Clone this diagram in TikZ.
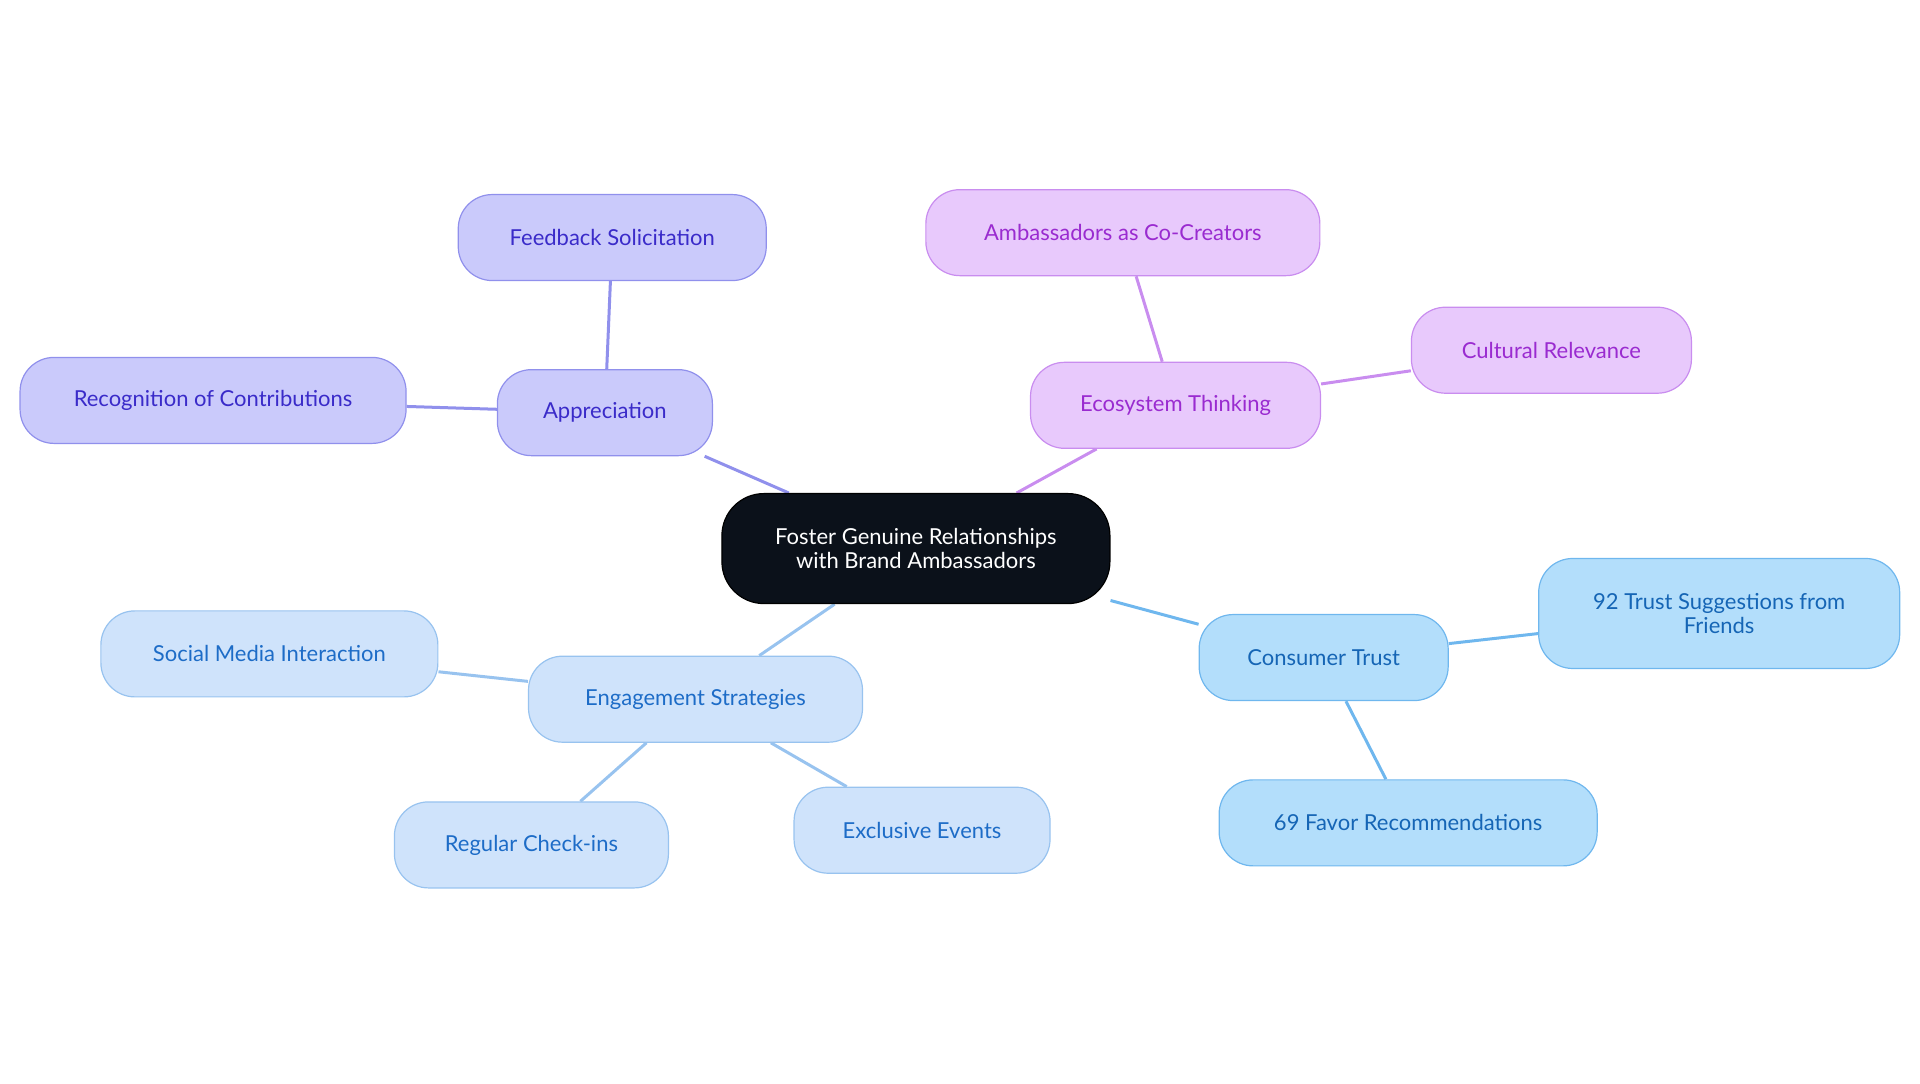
\documentclass[tikz,border=0pt]{standalone}
\usepackage{fontspec}
\setmainfont{Lato}
\begin{document}
\begin{tikzpicture}[x=1.2245pt,y=-1.2245pt,
 base/.style={rounded corners=34pt,draw,line width=1.2pt,minimum height=86pt,align=center,font=\fontsize{22}{24}\selectfont,inner sep=0pt},
 pur/.style={base,fill=purA,draw=purB,text=purC},
 vio/.style={base,fill=vioA,draw=vioB,text=vioC},
 sky/.style={base,fill=skyA,draw=skyB,text=skyC},
 lbl/.style={base,fill=lblA,draw=lblB,text=lblC},
 e/.style={line width=3pt}]
\definecolor{purA}{HTML}{CACAFB}\definecolor{purB}{HTML}{9090EC}\definecolor{purC}{HTML}{3A2BC9}
\definecolor{vioA}{HTML}{E8C9FC}\definecolor{vioB}{HTML}{C98DEF}\definecolor{vioC}{HTML}{9A2BD0}
\definecolor{skyA}{HTML}{B3DEFB}\definecolor{skyB}{HTML}{6FB7EE}\definecolor{skyC}{HTML}{1565B5}
\definecolor{lblA}{HTML}{CFE3FB}\definecolor{lblB}{HTML}{98C3EF}\definecolor{lblC}{HTML}{1D6CC7}
\useasboundingbox (0,0) rectangle (1568,884.5);
\node[base,fill=black!90!blue!40!black,fill={rgb,255:red,11;green,17;blue,26},text=white,minimum width=388pt,minimum height=110pt,rounded corners=42pt] (c) at (748,448) {Foster Genuine Relationships\\with Brand Ambassadors};
\node[pur,minimum width=215pt] (a) at (494,337) {Appreciation};
\node[pur,minimum width=308pt] (a1) at (500,194) {Feedback Solicitation};
\node[pur,minimum width=386pt] (a2) at (174,327) {Recognition of Contributions};
\node[vio,minimum width=290pt] (b) at (960,331) {Ecosystem Thinking};
\node[vio,minimum width=394pt] (b1) at (917,190) {Ambassadors as Co-Creators};
\node[vio,minimum width=280pt] (b2) at (1267,286) {Cultural Relevance};
\node[sky,minimum width=249pt] (t) at (1081,537) {Consumer Trust};
\node[sky,minimum width=361pt,minimum height=110pt] (t1) at (1404,501) {92 Trust Suggestions from\\Friends};
\node[sky,minimum width=378pt] (t2) at (1150,672) {69 Favor Recommendations};
\node[lbl,minimum width=334pt] (g) at (568,571) {Engagement Strategies};
\node[lbl,minimum width=337pt] (g1) at (220,534) {Social Media Interaction};
\node[lbl,minimum width=274pt] (g2) at (434,690) {Regular Check-ins};
\node[lbl,minimum width=256pt] (g3) at (753,678) {Exclusive Events};
\begin{scope}[on background layer/.style={}]
\end{scope}
\begin{pgfonlayer}{main}\end{pgfonlayer}
\pgfdeclarelayer{bg}\pgfsetlayers{bg,main}
\begin{pgfonlayer}{bg}
\draw[e,purB] (c)--(a) (a)--(a1) (a)--(a2);
\draw[e,vioB] (c)--(b) (b)--(b1) (b)--(b2);
\draw[e,skyB] (c)--(t) (t)--(t1) (t)--(t2);
\draw[e,lblB] (c)--(g) (g)--(g1) (g)--(g2) (g)--(g3);
\end{pgfonlayer}
\end{tikzpicture}
\end{document}
